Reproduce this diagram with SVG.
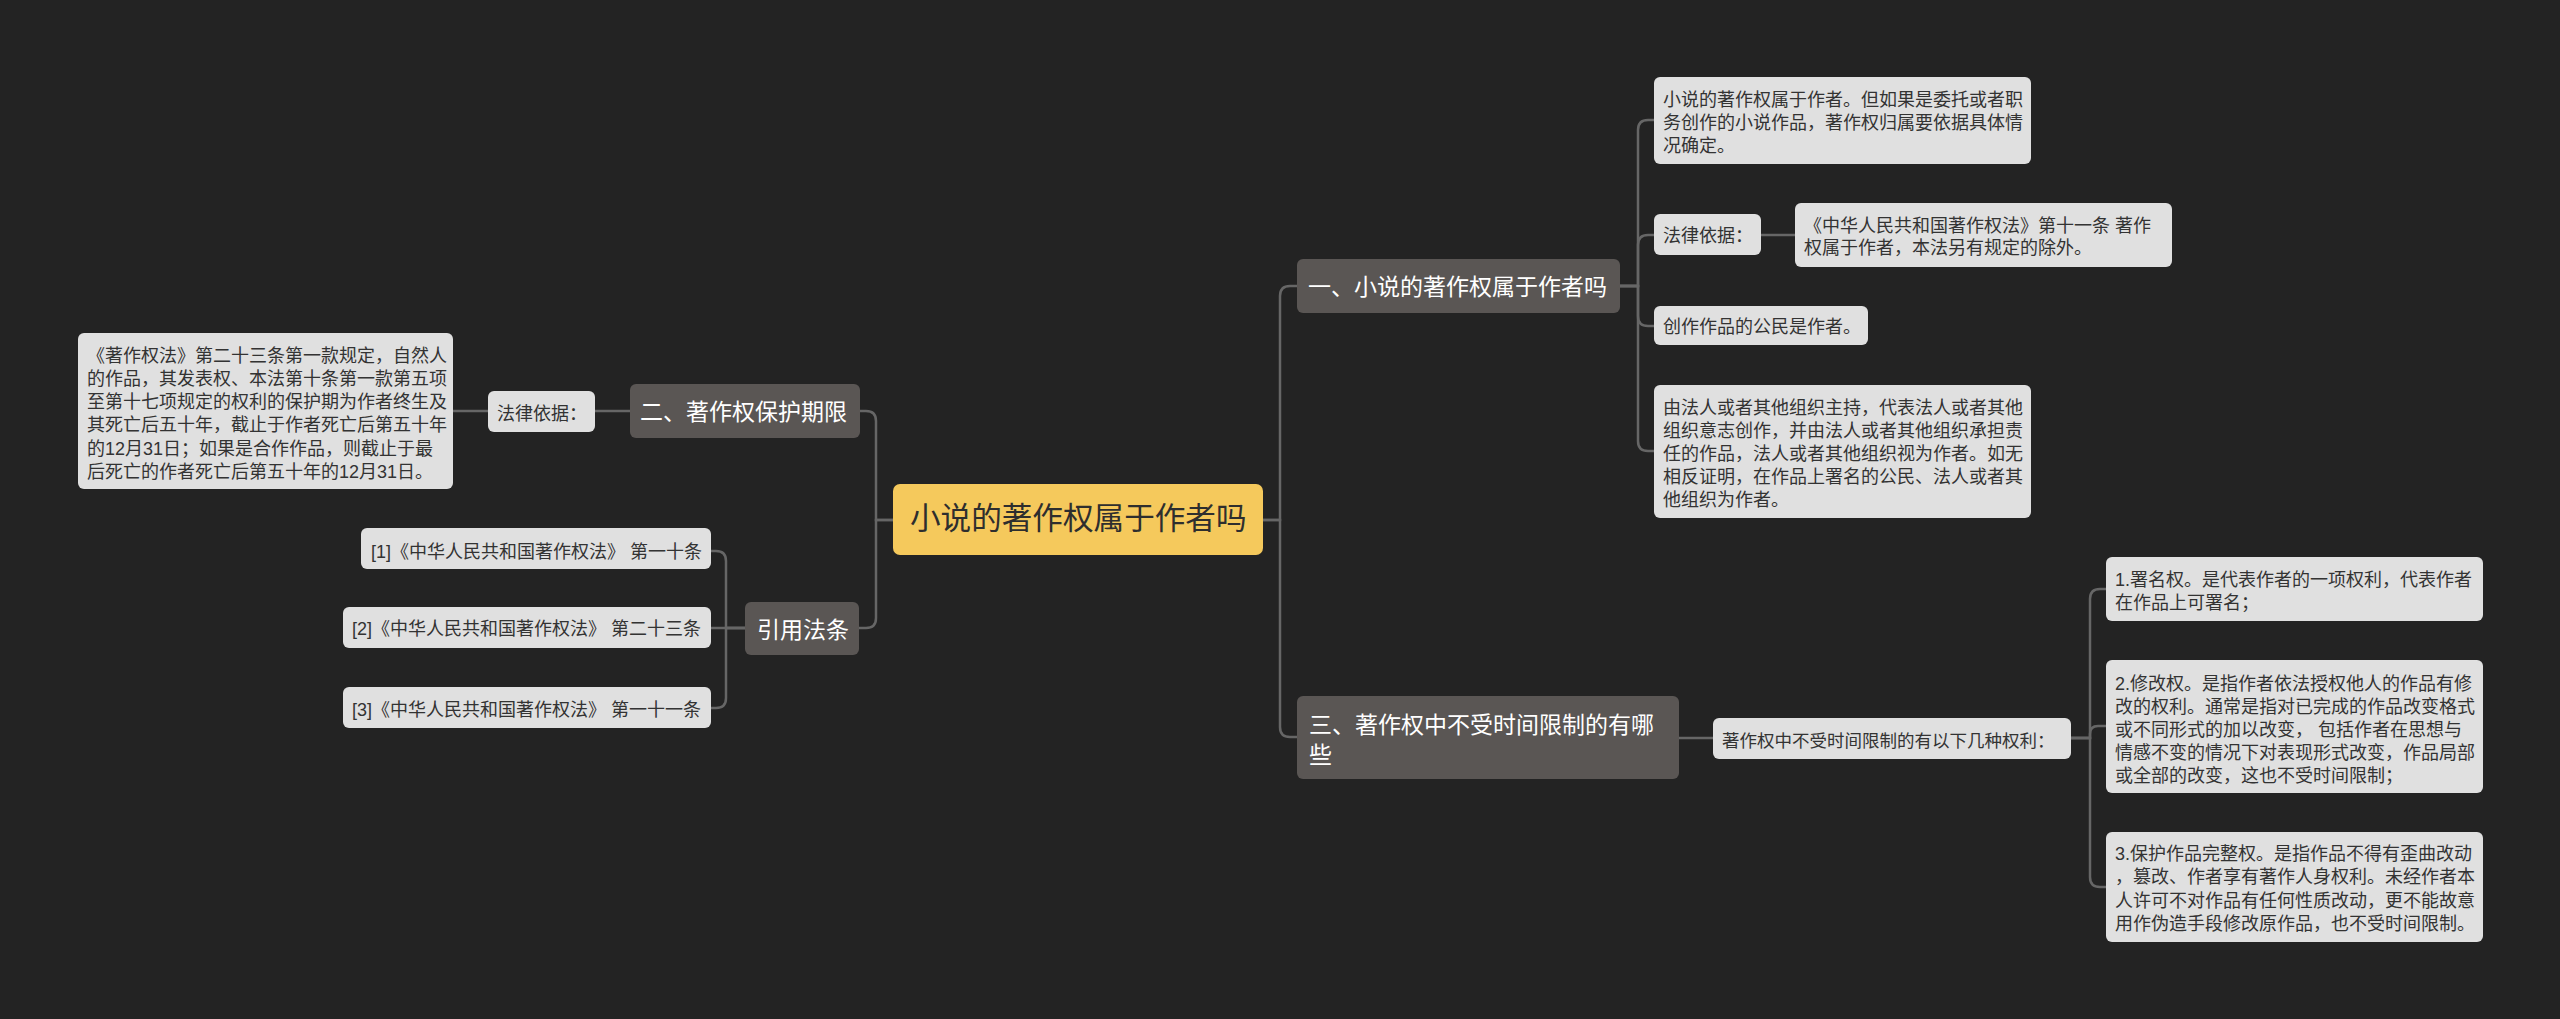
<svg xmlns="http://www.w3.org/2000/svg" width="2560" height="1019" viewBox="0 0 2560 1019">
<style>
.bg{fill:#232323}
.lb{fill:#e0e0e0}
.db{fill:#5a5654}
.rt{fill:#f5c95c}
.t{font-family:"Liberation Sans","Noto Sans CJK SC",sans-serif;font-size:18px;fill:#333333}
.td{font-family:"Liberation Sans","Noto Sans CJK SC",sans-serif;font-size:23px;fill:#ffffff}
.tr{font-family:"Liberation Sans","Noto Sans CJK SC",sans-serif;font-size:30.6px;fill:#2e2e2e}
.c{fill:none;stroke:#666666;stroke-width:2.5}
</style>
<rect class="bg" x="0" y="0" width="2560" height="1019"/>
<g id="connectors">
<path class="c" d="M893,520 H876 V421 Q876,411 866,411 H860"/>
<path class="c" d="M893,520 H876 V618 Q876,628 866,628 H859"/>
<path class="c" d="M630,411 H594"/>
<path class="c" d="M488,411 H453"/>
<path class="c" d="M745,628 H726 V561 Q726,551 716,551 H710"/>
<path class="c" d="M745,628 H710"/>
<path class="c" d="M745,628 H726 V698 Q726,708 716,708 H710"/>
<path class="c" d="M1263,520 H1280 V296 Q1280,286 1290,286 H1297"/>
<path class="c" d="M1263,520 H1280 V727 Q1280,737 1290,737 H1297"/>
<path class="c" d="M1620,286 H1638 V130 Q1638,120 1648,120 H1654"/>
<path class="c" d="M1620,286 H1638 V245 Q1638,235 1648,235 H1654"/>
<path class="c" d="M1620,286 H1638 V316 Q1638,326 1648,326 H1654"/>
<path class="c" d="M1620,286 H1638 V441 Q1638,451 1648,451 H1654"/>
<path class="c" d="M1761,235 H1795"/>
<path class="c" d="M1679,738 H1713"/>
<path class="c" d="M2071,738 H2090 V599 Q2090,589 2100,589 H2106"/>
<path class="c" d="M2071,738 H2090 V734 Q2090,726 2098,726 H2106"/>
<path class="c" d="M2071,738 H2090 V877 Q2090,887 2100,887 H2106"/>
</g>
<g id="root">
<rect class="rt" x="893" y="484" width="370" height="71" rx="7"/>
<text class="tr" x="910" y="529">小说的著作权属于作者吗</text>
</g>
<g id="n-term">
<rect class="db" x="630" y="384" width="230" height="54" rx="6"/>
<text class="td" x="640" y="420">二、著作权保护期限</text>
</g>
<g id="n-term-basis">
<rect class="lb" x="488" y="391" width="107" height="41" rx="6"/>
<text class="t" x="497" y="420">法律依据：</text>
</g>
<g id="n-term-text">
<rect class="lb" x="78" y="333" width="375" height="156" rx="6"/>
<text class="t" x="87" y="361.5">《著作权法》第二十三条第一款规定，自然人</text>
<text class="t" x="87" y="384.8">的作品，其发表权、本法第十条第一款第五项</text>
<text class="t" x="87" y="408.1">至第十七项规定的权利的保护期为作者终生及</text>
<text class="t" x="87" y="431.4">其死亡后五十年，截止于作者死亡后第五十年</text>
<text class="t" x="87" y="454.7">的12月31日；如果是合作作品，则截止于最</text>
<text class="t" x="87" y="478">后死亡的作者死亡后第五十年的12月31日。</text>
</g>
<g id="n-refs">
<rect class="db" x="745" y="602" width="114" height="53" rx="6"/>
<text class="td" x="757" y="638">引用法条</text>
</g>
<g id="n-ref1">
<rect class="lb" x="361" y="528" width="350" height="41" rx="6"/>
<text class="t" x="371" y="557.5">[1]《中华人民共和国著作权法》 第一十条</text>
</g>
<g id="n-ref2">
<rect class="lb" x="343" y="607" width="368" height="41" rx="6"/>
<text class="t" x="352" y="635">[2]《中华人民共和国著作权法》 第二十三条</text>
</g>
<g id="n-ref3">
<rect class="lb" x="343" y="687" width="368" height="41" rx="6"/>
<text class="t" x="352" y="716">[3]《中华人民共和国著作权法》 第一十一条</text>
</g>
<g id="n-one">
<rect class="db" x="1297" y="259" width="323" height="54" rx="6"/>
<text class="td" x="1308" y="295">一、小说的著作权属于作者吗</text>
</g>
<g id="n-one-a">
<rect class="lb" x="1654" y="77" width="377" height="87" rx="6"/>
<text class="t" x="1663" y="106">小说的著作权属于作者。但如果是委托或者职</text>
<text class="t" x="1663" y="129">务创作的小说作品，著作权归属要依据具体情</text>
<text class="t" x="1663" y="152">况确定。</text>
</g>
<g id="n-one-b">
<rect class="lb" x="1654" y="214" width="107" height="41" rx="6"/>
<text class="t" x="1663" y="242">法律依据：</text>
</g>
<g id="n-one-c">
<rect class="lb" x="1795" y="203" width="377" height="64" rx="6"/>
<text class="t" x="1804" y="232">《中华人民共和国著作权法》第十一条 著作</text>
<text class="t" x="1804" y="254">权属于作者，本法另有规定的除外。</text>
</g>
<g id="n-one-d">
<rect class="lb" x="1654" y="306" width="214" height="39" rx="6"/>
<text class="t" x="1663" y="333">创作作品的公民是作者。</text>
</g>
<g id="n-one-e">
<rect class="lb" x="1654" y="385" width="377" height="133" rx="6"/>
<text class="t" x="1663" y="413.5">由法人或者其他组织主持，代表法人或者其他</text>
<text class="t" x="1663" y="436.5">组织意志创作，并由法人或者其他组织承担责</text>
<text class="t" x="1663" y="459.5">任的作品，法人或者其他组织视为作者。如无</text>
<text class="t" x="1663" y="482.5">相反证明，在作品上署名的公民、法人或者其</text>
<text class="t" x="1663" y="505.5">他组织为作者。</text>
</g>
<g id="n-three">
<rect class="db" x="1297" y="696" width="382" height="83" rx="6"/>
<text class="td" x="1309" y="733">三、著作权中不受时间限制的有哪</text>
<text class="td" x="1309" y="763">些</text>
</g>
<g id="n-three-a">
<rect class="lb" x="1713" y="718" width="358" height="41" rx="6"/>
<text class="t" x="1722" y="746.5" style="font-size:17.5px">著作权中不受时间限制的有以下几种权利：</text>
</g>
<g id="n-r1">
<rect class="lb" x="2106" y="557" width="377" height="64" rx="6"/>
<text class="t" x="2115" y="586">1.署名权。是代表作者的一项权利，代表作者</text>
<text class="t" x="2115" y="608.5">在作品上可署名；</text>
</g>
<g id="n-r2">
<rect class="lb" x="2106" y="660" width="377" height="133" rx="6"/>
<text class="t" x="2115" y="690">2.修改权。是指作者依法授权他人的作品有修</text>
<text class="t" x="2115" y="713">改的权利。通常是指对已完成的作品改变格式</text>
<text class="t" x="2115" y="736">或不同形式的加以改变， 包括作者在思想与</text>
<text class="t" x="2115" y="759">情感不变的情况下对表现形式改变，作品局部</text>
<text class="t" x="2115" y="782">或全部的改变，这也不受时间限制；</text>
</g>
<g id="n-r3">
<rect class="lb" x="2106" y="832" width="377" height="110" rx="6"/>
<text class="t" x="2115" y="860">3.保护作品完整权。是指作品不得有歪曲改动</text>
<text class="t" x="2115" y="883.3">，篡改、作者享有著作人身权利。未经作者本</text>
<text class="t" x="2115" y="906.6">人许可不对作品有任何性质改动，更不能故意</text>
<text class="t" x="2115" y="929.9">用作伪造手段修改原作品，也不受时间限制。</text>
</g>
</svg>
